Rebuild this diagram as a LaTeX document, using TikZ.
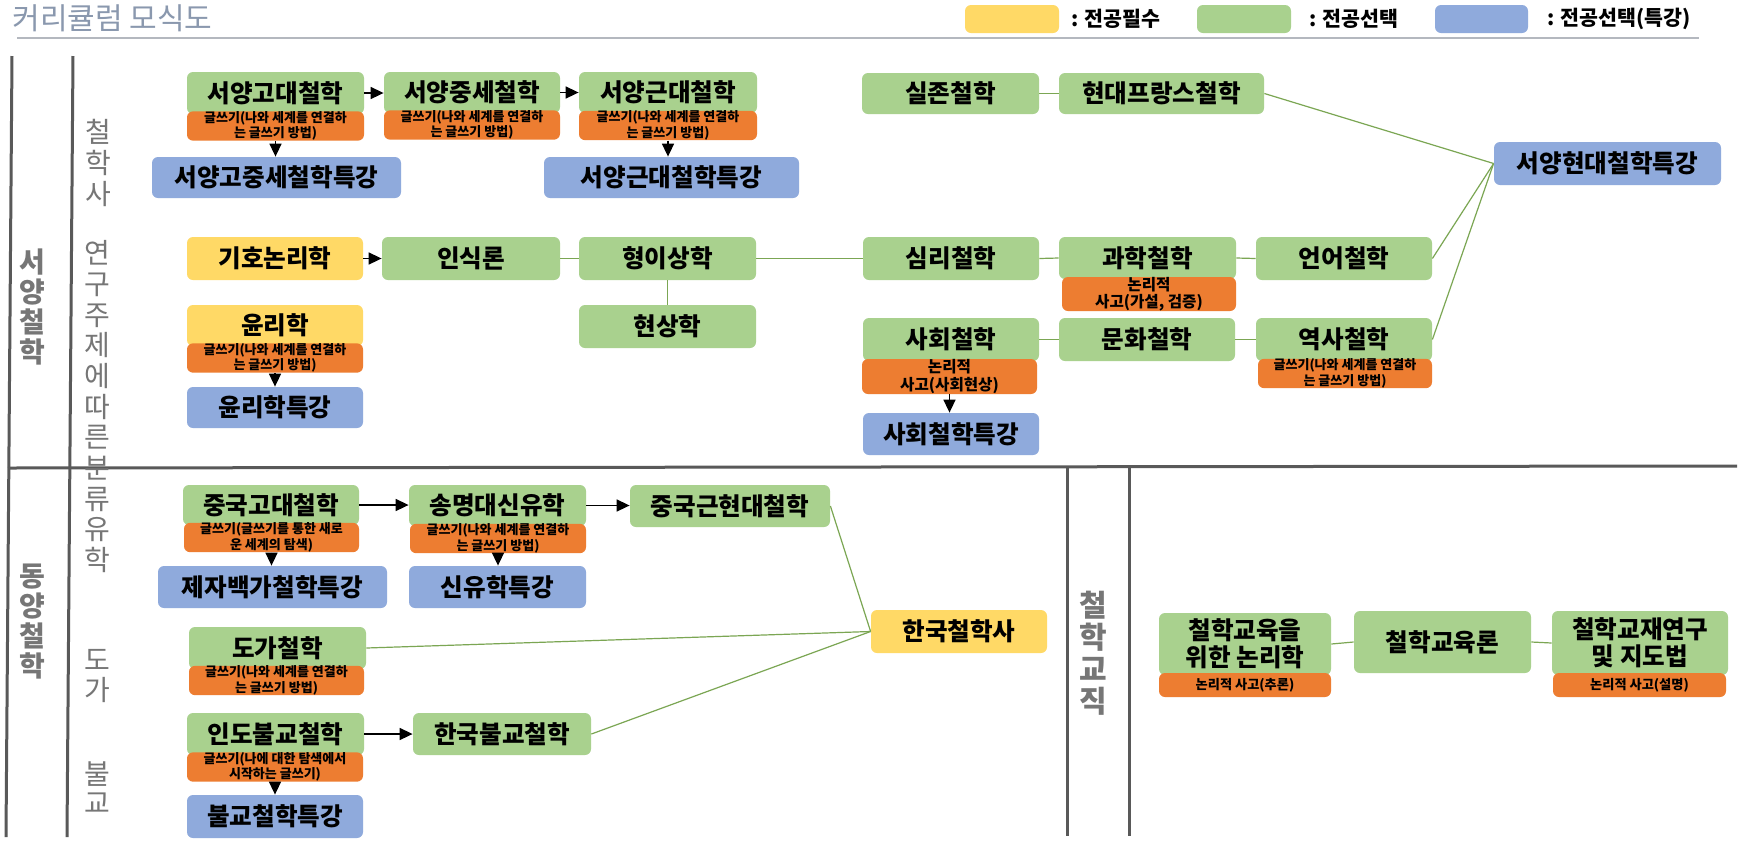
\documentclass[tikz,border=0pt]{standalone}
\usepackage{fontspec}
\setmainfont{Noto Sans CJK KR}
\usetikzlibrary{arrows.meta}
\definecolor{cgreen}{HTML}{A9D18E}
\definecolor{cyellow}{HTML}{FFD966}
\definecolor{cblue}{HTML}{8FAADC}
\definecolor{corange}{HTML}{ED7D31}
\definecolor{cframe}{HTML}{595959}
\definecolor{ctitle}{HTML}{8A98AE}
\definecolor{cunder}{HTML}{B4B8BF}
\definecolor{cline}{HTML}{7BA653}
\definecolor{clabel}{HTML}{767676}
\newcommand\cbox[7]{%
  \pgfmathsetmacro\mybw{(#5-#3)*0.5}\pgfmathsetmacro\mybh{(#6-#4)*0.5}%
  \pgfmathsetmacro\mybcx{(#3+#5)/2}\pgfmathsetmacro\mybcy{(#4+#6)/2}%
  \node[#1, minimum width=\mybw pt, minimum height=\mybh pt] (#2) at (\mybcx,\mybcy) {#7};}
\begin{document}
\begin{tikzpicture}[x=0.5pt,y=-0.5pt,
  nbox/.style={rounded corners=3pt, inner sep=0pt, align=center, text=black,
    font=\fontsize{12.3}{13.5}\selectfont\bfseries},
  gbox/.style={nbox, fill=cgreen},
  ybox/.style={nbox, fill=cyellow},
  bbox/.style={nbox, fill=cblue},
  obox/.style={nbox, fill=corange, font=\fontsize{6.5}{6.6}\selectfont\bfseries},
  obig/.style={nbox, fill=corange, font=\fontsize{7.8}{8.6}\selectfont\bfseries},
  osmall/.style={nbox, fill=corange, font=\fontsize{6.6}{7}\selectfont\bfseries},
  conn/.style={draw=cline, line width=0.6pt},
  arr/.style={draw=black, line width=0.8pt, -{Triangle[length=6.5pt,width=6pt]}},
  framel/.style={draw=cframe, line width=1.5pt},
  vlab/.style={text=clabel, align=center, inner sep=0pt, font=\fontsize{14}{15.35}\selectfont},
  vlabb/.style={text=clabel, align=center, inner sep=0pt, font=\fontsize{14}{15}\selectfont\bfseries},
  legtext/.style={anchor=west, inner sep=0pt, font=\fontsize{10.3}{12}\selectfont\bfseries},
]
\useasboundingbox[fill=white] (0,0) rectangle (1758,853);

% title and legend
\node[anchor=west, text=ctitle, inner sep=0pt, font=\fontsize{15}{17}\selectfont] (title) at (12,18) {커리큘럼 모식도};
\draw[draw=cunder, line width=1.2pt] (17,38) -- (1699,38);
\cbox{ybox}{legy}{965}{5}{1059}{33}{}
\cbox{gbox}{legg}{1197}{5}{1291}{33}{}
\cbox{bbox}{legb}{1435}{5}{1528}{33}{}
\node[legtext] (legyt) at (1071,19) {: 전공필수};
\node[legtext] (leggt) at (1309,19) {: 전공선택};
\node[legtext] (legbt) at (1547,19) {: 전공선택(특강)};

% frame
\draw[framel] (12,56) -- (6,837);
\draw[framel] (73,56) -- (67,837);
\draw[framel] (8,468) -- (1737,466);
\draw[framel] (1067,466) -- (1067,836);
\draw[framel] (1129,466) -- (1129,836);

% vertical labels
\node[vlabb] (lwest) at (32,307) {서\\양\\철\\학};
\node[vlabb] (least) at (32,621.5) {동\\양\\철\\학};
\node[vlab, font=\fontsize{14}{15.5}\selectfont] (lhist) at (98,163) {철\\학\\사};
\node[vlab] (ltopic) at (97,376) {연\\구\\주\\제\\에\\따\\른\\분\\류};
\node[vlab] (lconf) at (97,545) {유\\학};
\node[vlab] (ltao) at (97,676) {도\\가};
\node[vlab, font=\fontsize{14}{14.5}\selectfont] (lbud) at (97,787.5) {불\\교};
\node[vlabb, font=\fontsize{15}{16}\selectfont\bfseries] (ledu) at (1093,653) {철\\학\\교\\직};

% row 1: history
\cbox{gbox}{a1}{187}{72}{364}{114}{서양고대철학}
\cbox{obox}{o1}{187}{112}{364}{140}{글쓰기(나와 세계를 연결하\\는 글쓰기 방법)}
\cbox{gbox}{a2}{384}{72}{560}{113}{서양중세철학}
\cbox{obox}{o2}{384}{111}{560}{139}{글쓰기(나와 세계를 연결하\\는 글쓰기 방법)}
\cbox{gbox}{a3}{579}{72}{757}{113}{서양근대철학}
\cbox{obox}{o3}{579}{111}{757}{140}{글쓰기(나와 세계를 연결하\\는 글쓰기 방법)}
\cbox{bbox}{b1}{152}{157}{401}{198}{서양고중세철학특강}
\cbox{bbox}{b2}{544}{157}{799}{198}{서양근대철학특강}
\cbox{gbox}{exi}{862}{73}{1039}{114}{실존철학}
\cbox{gbox}{fre}{1059}{73}{1264}{114}{현대프랑스철학}
\cbox{bbox}{mod}{1494}{142}{1721}{185}{서양현대철학특강}

% row 2: topics
\cbox{ybox}{sym}{187}{237}{363}{280}{기호논리학}
\cbox{gbox}{epi}{382}{237}{560}{280}{인식론}
\cbox{gbox}{met}{579}{237}{756}{280}{형이상학}
\cbox{gbox}{phe}{579}{305}{756}{348}{현상학}
\cbox{ybox}{eth}{187}{305}{363}{346}{윤리학}
\cbox{obox}{oeth}{187}{344}{363}{372}{글쓰기(나와 세계를 연결하\\는 글쓰기 방법)}
\cbox{bbox}{beth}{187}{387}{363}{428}{윤리학특강}
\cbox{gbox}{psy}{863}{237}{1039}{280}{심리철학}
\cbox{gbox}{sci}{1059}{237}{1236}{279}{과학철학}
\cbox{obig}{osci}{1062}{277}{1236}{311}{논리적\\사고(가설, 검증)}
\cbox{gbox}{lan}{1256}{237}{1432}{280}{언어철학}
\cbox{gbox}{soc}{863}{318}{1039}{361}{사회철학}
\cbox{obig}{osoc}{862}{359}{1037}{394}{논리적\\사고(사회현상)}
\cbox{bbox}{bsoc}{863}{413}{1039}{455}{사회철학특강}
\cbox{gbox}{cul}{1059}{318}{1235}{361}{문화철학}
\cbox{gbox}{his}{1256}{318}{1432}{361}{역사철학}
\cbox{obox}{ohis}{1258}{359}{1432}{388}{글쓰기(나와 세계를 연결하\\는 글쓰기 방법)}

% eastern philosophy
\cbox{gbox}{chi}{183}{485}{359}{525}{중국고대철학}
\cbox{obox}{ochi}{184}{523}{359}{552}{글쓰기(글쓰기를 통한 새로\\운 세계의 탐색)}
\cbox{gbox}{neo}{409}{485}{586}{526}{송명대신유학}
\cbox{obox}{oneo}{410}{524}{586}{553}{글쓰기(나와 세계를 연결하\\는 글쓰기 방법)}
\cbox{gbox}{chm}{630}{485}{830}{527}{중국근현대철학}
\cbox{bbox}{bchi}{158}{566}{387}{608}{제자백가철학특강}
\cbox{bbox}{bneo}{409}{566}{586}{608}{신유학특강}
\cbox{gbox}{tao}{189}{627}{366}{669}{도가철학}
\cbox{obox}{otao}{189}{667}{364}{694}{글쓰기(나와 세계를 연결하\\는 글쓰기 방법)}
\cbox{gbox}{ind}{187}{713}{364}{755}{인도불교철학}
\cbox{obox}{oind}{187}{753}{363}{781}{글쓰기(나에 대한 탐색에서\\시작하는 글쓰기)}
\cbox{gbox}{kbu}{413}{713}{591}{755}{한국불교철학}
\cbox{bbox}{bbud}{187}{795}{363}{838}{불교철학특강}
\cbox{ybox}{kor}{871}{610}{1047}{653}{한국철학사}

% teaching
\cbox{gbox}{edl}{1159}{613}{1331}{675}{철학교육을\\위한 논리학}
\cbox{osmall}{oedl}{1159}{673}{1331}{697}{논리적 사고(추론)}
\cbox{gbox}{edu}{1354}{611}{1531}{673}{철학교육론}
\cbox{gbox}{edm}{1552}{611}{1728}{675}{철학교재연구\\및 지도법}
\cbox{osmall}{oedm}{1553}{673}{1726}{697}{논리적 사고(설명)}

% arrows
\draw[arr] (a1.east) -- (a1.east -| a2.west);
\draw[arr] (a2.east) -- (a2.east -| a3.west);
\draw[arr] (o1.south) -- (o1.south |- b1.north);
\draw[arr] (o3.south) -- (o3.south |- b2.north);
\draw[arr] (sym.east) -- (sym.east -| epi.west);
\draw[arr] (oeth.south) -- (oeth.south |- beth.north);
\draw[arr] (osoc.south) -- (osoc.south |- bsoc.north);
\draw[arr] (chi.east) -- (chi.east -| neo.west);
\draw[arr] (neo.east) -- (neo.east -| chm.west);
\draw[arr] (ochi.south) -- (ochi.south |- bchi.north);
\draw[arr] (oneo.south) -- (oneo.south |- bneo.north);
\draw[arr] (ind.east) -- (ind.east -| kbu.west);
\draw[arr] (oind.south) -- (oind.south |- bbud.north);

% green connectors
\draw[conn] (exi.east) -- (fre.west);
\draw[conn] (fre.east) -- (mod.west);
\draw[conn] (lan.east) -- (mod.west);
\draw[conn] (his.east) -- (mod.west);
\draw[conn] (epi.east) -- (met.west);
\draw[conn] (met.east) -- (psy.west);
\draw[conn] (met.south) -- (phe.north);
\draw[conn] (psy.east) -- (sci.west);
\draw[conn] (sci.east) -- (lan.west);
\draw[conn] (soc.east) -- (cul.west);
\draw[conn] (cul.east) -- (his.west);
\draw[conn] (chm.east) -- (kor.west);
\draw[conn] (tao.east) -- (kor.west);
\draw[conn] (kbu.east) -- (kor.west);
\draw[conn] (edl.east) -- (edu.west);
\draw[conn] (edu.east) -- (edm.west);
\end{tikzpicture}
\end{document}
